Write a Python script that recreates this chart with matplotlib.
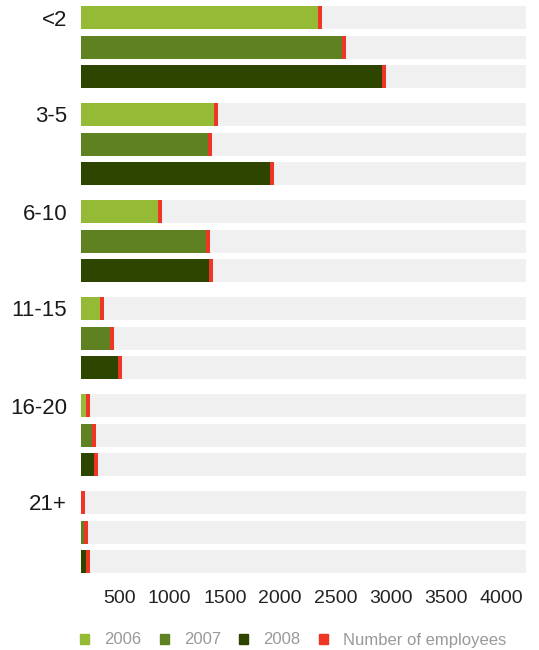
import matplotlib.pyplot as plt
from matplotlib.patches import Patch

plt.rcParams['font.family'] = ['Liberation Sans', 'DejaVu Sans']

groups = ['<2', '3-5', '6-10', '11-15', '16-20', '21+']
years = ['2006', '2007', '2008']
v2006 = [2145, 1204, 697, 172, 45, 0]
v2007 = [2362, 1149, 1131, 262, 100, 27]
v2008 = [2724, 1710, 1158, 335, 118, 45]
ticks = [500, 1000, 1500, 2000, 2500, 3000, 3500, 4000]

colors = ['#94ba36', '#5f8122', '#2e4500']
red = '#ef3526'
track = '#f0f0f0'
xmax = 4030
marker_w = 36  # width of the red end marker, in axis units

group_step = 97
bar_step = 29.5
bar_h = 23

fig = plt.figure(figsize=(5.39, 6.5), dpi=100)
ax = fig.add_axes([81 / 539, 1 - 580 / 650, 445 / 539, 580 / 650])

for j, vals in enumerate([v2006, v2007, v2008]):
    for i, v in enumerate(vals):
        y = i * group_step + j * bar_step + 17.5
        ax.barh(y, xmax, height=bar_h, color=track, zorder=1)
        ax.barh(y, v, height=bar_h, color=colors[j], zorder=2)
        ax.barh(y, marker_w, left=v, height=bar_h, color=red, zorder=3)

ax.set_xlim(0, xmax)
ax.set_ylim(580, 0)
ax.set_yticks([i * group_step + 17.5 for i in range(len(groups))])
ax.set_yticklabels(groups, fontsize=16, color='#1a1a1a')
ax.set_xticks(ticks)
ax.set_xticklabels([str(t) for t in ticks], fontsize=14, color='#222222', ha='right')
ax.tick_params(axis='both', length=0)
ax.tick_params(axis='y', pad=10)
ax.tick_params(axis='x', pad=7)
for s in ax.spines.values():
    s.set_visible(False)

handles = [Patch(color=c, label=y) for c, y in zip(colors, years)]
handles.append(Patch(color=red, label='Number of employees'))
leg = fig.legend(handles=handles, loc='center left', bbox_to_anchor=(80 / 539, 1 - 640 / 650),
                 ncol=4, frameon=False, fontsize=12, handlelength=0.55, handleheight=0.55,
                 handletextpad=0.9, columnspacing=1.1, borderaxespad=0, borderpad=0)
for t in leg.get_texts():
    t.set_color('#999999')

fig.savefig('out.png', dpi=100)
